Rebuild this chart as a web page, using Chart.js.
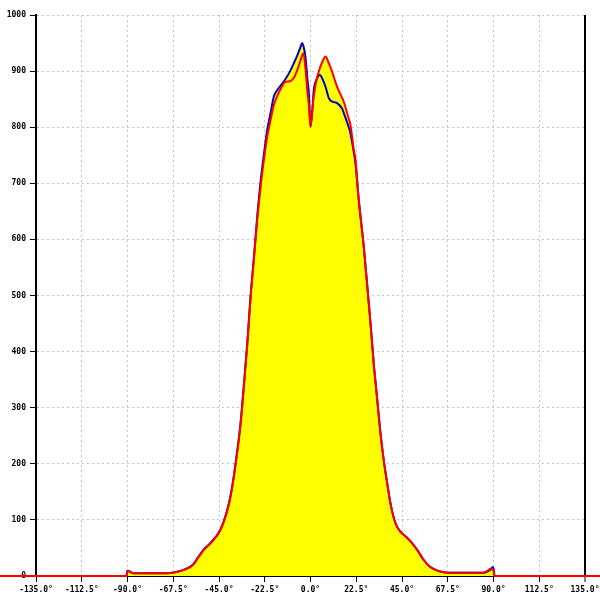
<!DOCTYPE html>
<html>
<head>
<meta charset="utf-8">
<script src="https://cdn.jsdelivr.net/npm/chart.js@4"></script>
<style>
html,body{margin:0;padding:0;background:#fff;}
#wrap{width:600px;height:600px;}
</style>
</head>
<body>
<div id="wrap"><canvas id="c" width="600" height="600"></canvas></div>
<script>
// Angles (degrees) shared by both series
const angles = [-90.5,-90,-89,-87,-80,-72,-68,-65,-63,-61,-59,-57,-55.6,-54,-52.4,-50,-47.5,-45,-42.6,-40.1,-38.5,-36.8,-34.4,-32.7,-31.1,-29.5,-27.8,-26.2,-24.5,-22.9,-21.3,-19.5,-18,-16.4,-14.7,-12.3,-10,-8.2,-6.5,-5,-4.1,-3.5,-2.5,-1.5,-0.8,0,1,1.6,3,4.6,6,7.4,9,10.5,13.1,15.6,16.4,18.8,19.6,21.3,22.1,23.7,26.2,27.8,29.5,31.1,32.7,34.4,36,37.7,39.3,41.7,44.2,47,49.1,52.4,55.6,58.9,61.5,63.8,67.1,75,85,87,88.4,89.7,90,90.5];
const blueValues = [0,10,8,5,5,5,6,8,10,13,17,24,32,40,48,56,66,78,98,130,160,202,273,344,415,498,570,641,705,752,795,828,855,866,874,886,900,914,928,942,950,945,926,885,860,801,835,866,885,893,885,872,852,846,843,833,825,800,790,755,736,671,587,522,451,379,319,255,207,166,130,95,79,70,62,47,29,16,11,8,6,6,6,8,11,16,13,0];
const redValues  = [0,9,8,5,5,5,6,8,10,13,16,23,31,39,47,55,65,77,97,128,158,200,270,340,412,495,566,635,695,742,783,815,840,855,868,881,882,888,902,918,928,932,905,862,840,801,835,855,885,905,918,926,914,900,872,852,845,815,805,760,743,673,587,522,451,379,319,255,207,166,130,95,79,70,62,47,29,16,11,8,6,6,6,9,13,11,10,0];
// red baseline continues beyond the plotted angle range
const redOuterAngles = [-180, 180];
const xTicks = [-135,-112.5,-90,-67.5,-45,-22.5,0,22.5,45,67.5,90,112.5,135];
const yTicks = [0,100,200,300,400,500,600,700,800,900,1000];

const bluePts = angles.map((a,i)=>({x:a,y:blueValues[i]}));
const redPts = [{x:redOuterAngles[0],y:0}].concat(angles.map((a,i)=>({x:a,y:redValues[i]})), [{x:redOuterAngles[1],y:0}]);

const tickFont = {family:'"DejaVu Sans Mono", monospace', size:8, weight:'bold'};
const GRID = '#c4c4c4';

new Chart(document.getElementById('c'), {
  type:'line',
  data:{datasets:[
    {label:'red', data:redPts, borderColor:'#ff0000', borderWidth:2, backgroundColor:'#ffff00', fill:'origin', pointRadius:0, cubicInterpolationMode:'monotone', clip:false},
    {label:'blue', data:bluePts, borderColor:'#0000c8', borderWidth:2, backgroundColor:'#ffff00', fill:'origin', pointRadius:0, cubicInterpolationMode:'monotone'}
  ]},
  options:{
    responsive:false, animation:false, devicePixelRatio:1,
    layout:{padding:{top:15,right:15,left:0,bottom:0}},
    plugins:{legend:{display:false}, tooltip:{enabled:false}, filler:{drawTime:'beforeDatasetsDraw'}},
    scales:{
      x:{type:'linear', min:-135, max:135,
        afterBuildTicks:s=>{s.ticks = xTicks.map(v=>({value:v}));},
        afterFit:s=>{s.height=24; s.paddingRight=0; s.paddingLeft=0;},
        ticks:{font:tickFont, color:'#000', padding:3, maxRotation:0, autoSkip:false, callback:v=>Number(v).toFixed(1)+'°'},
        grid:{color:c=>(c.tick&&c.tick.value===135)?'#000':GRID, lineWidth:c=>(c.tick&&c.tick.value===135)?2:1, tickColor:'#000', tickLength:6, tickWidth:1, tickBorderDash:[]},
        border:{color:'#000', width:2, dash:c=>(c.tick&&c.tick.value===135)?[]:[2,3]}
      },
      y:{min:0, max:1000,
        afterBuildTicks:s=>{s.ticks = yTicks.map(v=>({value:v}));},
        afterFit:s=>{s.width=36; s.paddingTop=0; s.paddingBottom=0;},
        ticks:{font:tickFont, color:'#000', padding:4, callback:v=>String(v)},
        grid:{color:GRID, lineWidth:1, tickColor:'#000', tickLength:6, tickWidth:1, tickBorderDash:[]},
        border:{color:'#000', width:2, dash:[2,3]}
      }
    }
  }
});
</script>
</body>
</html>
